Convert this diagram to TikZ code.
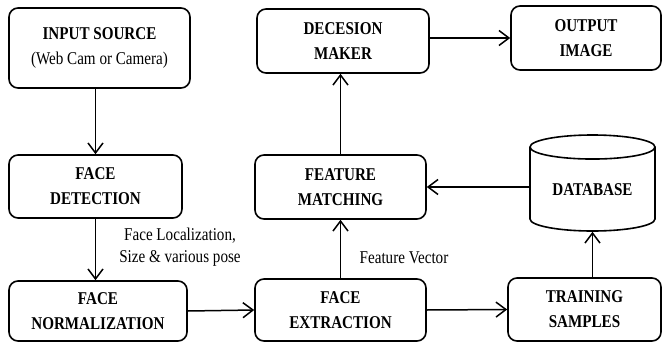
\documentclass[tikz,border=0pt]{standalone}
\usepackage{fontspec}
\setmainfont{Liberation Serif}
\newfontfamily\tallfont[FakeStretch=0.84]{Liberation Serif}
\usepackage{tikz}
\usetikzlibrary{arrows.meta,shapes.geometric}

\begin{document}
\begin{tikzpicture}[x=1pt, y=-1pt,
  box/.style = {draw, line width=1.6pt, rounded corners=9pt, align=center,
                font=\tallfont\fontsize{18}{25}\selectfont\bfseries, inner sep=0pt},
  lbl/.style = {align=center, font=\tallfont\fontsize{18}{22}\selectfont},
  conn/.style = {line width=1.5pt, -{Straight Barb[length=10pt,width=15pt,line width=1.5pt]}}]
\useasboundingbox (0,0) rectangle (662,343);
\node [box, minimum width=181pt, minimum height=80pt] (src) at (99.5,48)
  {INPUT SOURCE\\\mdseries (Web Cam or Camera)};
\node [box, minimum width=173pt, minimum height=63pt] (det) at (95.5,186.5) {FACE\\DETECTION};
\node [box, minimum width=178pt, minimum height=60pt] (norm) at (98,311) {FACE\\NORMALIZATION};
\node [box, minimum width=171pt, minimum height=62pt] (ext) at (340.5,310) {FACE\\EXTRACTION};
\node [box, minimum width=171pt, minimum height=64pt] (match) at (340.5,187) {FEATURE\\MATCHING};
\node [box, minimum width=172pt, minimum height=64pt] (dec) at (343,41) {DECESION\\MAKER};
\node [box, minimum width=150pt, minimum height=64pt] (out) at (586,38) {OUTPUT\\IMAGE};
\node [box, minimum width=153pt, minimum height=63pt] (train) at (584.5,309.5) {TRAINING\\SAMPLES};
\node [draw, line width=1.6pt, cylinder, shape border rotate=90, aspect=0.3,
  minimum width=125pt, minimum height=96pt, inner sep=0pt, anchor=shape center,
  font=\tallfont\fontsize{18}{25}\selectfont\bfseries] (db) at (592.5,183) {DATABASE};
\node [lbl] (loc) at (180,247) {Face Localization,\\Size \& various pose};
\node [lbl] (vec) at (404,258) {Feature Vector};
\draw [conn] (src.south -| det) -- (det.north);
\draw [conn] (det.south) -- (det.south |- norm.north);
\draw [conn] (norm.east) -- (ext.west);
\draw [conn] (ext.east) -- (train.west);
\draw [conn] (db.south |- train.north) -- (db.south);
\draw [conn] (db.west |- match.east) -- (match.east);
\draw [conn] (ext.north) -- (match.south);
\draw [conn] (match.north) -- (match.north |- dec.south);
\draw [conn] (dec.east |- out) -- (out.west);
\end{tikzpicture}
\end{document}
